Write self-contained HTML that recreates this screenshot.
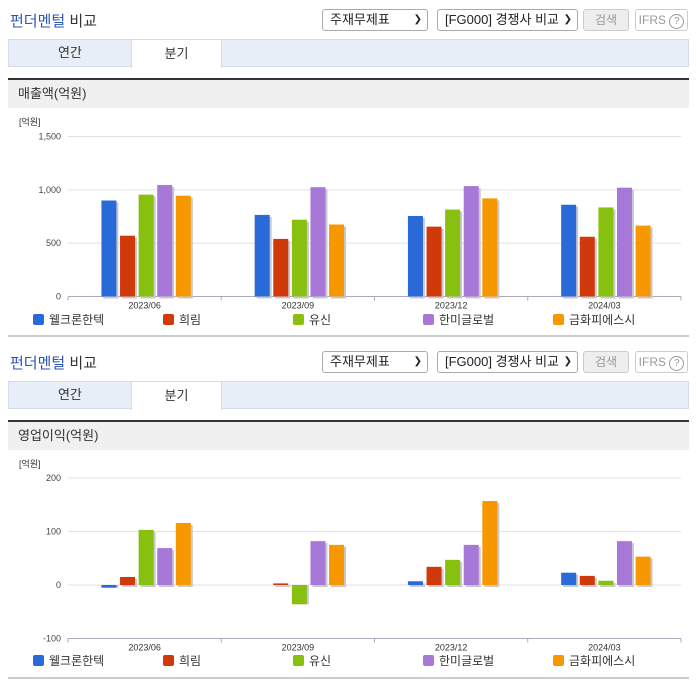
<!DOCTYPE html>
<html><head><meta charset="utf-8">
<style>
body{margin:0;width:696px;height:684px;background:#fff;font-family:"Liberation Sans","Noto Sans CJK KR",sans-serif;position:relative;overflow:hidden}
.abs{position:absolute}
.title{font-size:15px;color:#333;font-weight:normal}
.title b{color:#2a55b8;font-weight:normal}
.sel{border:1px solid #aaa;border-radius:3px;height:22px;font-size:13px;color:#222;box-sizing:border-box;line-height:20px;padding-left:7px;background:#fff}
.sel .arr{position:absolute;right:5px;top:0;font-size:10px}
.btn{border:1px solid #ccc;border-radius:3px;height:22px;box-sizing:border-box;font-size:12px;color:#999;line-height:20px;text-align:center}
.tabs{left:8px;width:681px;height:28px;background:#e8eef7;border:1px solid #d4dce8;box-sizing:border-box}
.tab{position:absolute;top:-1px;height:29px;line-height:28px;text-align:center;font-size:13px;color:#333}
.sec{left:8px;width:681px;height:30px;background:#f0f0f0;border-top:2px solid #333;box-sizing:border-box;font-size:13px;color:#333;line-height:28px;padding-left:10px}
.bottom{left:8px;width:681px;height:2px;background:#ccc}
</style></head><body>
<div id="root"></div>
<script>
const categories=['2023/06','2023/09','2023/12','2024/03'];
const seriesNames=['웰크론한텍','희림','유신','한미글로벌','금화피에스시'];
const colors=['#2a6ad8','#d03a0a','#88c010','#a878d8','#f89800'];
const salesWelcron=[900,765,755,860];
const salesHeerim=[570,540,655,560];
const salesYooshin=[955,720,815,835];
const salesHanmi=[1045,1025,1035,1020];
const salesKumhwa=[945,675,920,665];
const opWelcron=[-5,0,7,23];
const opHeerim=[15,3,34,17];
const opYooshin=[103,-36,47,8];
const opHanmi=[69,82,75,82];
const opKumhwa=[116,75,157,53];
const salesTicks=[0,500,1000,1500];
const salesTickLabels=['0','500','1,000','1,500'];
const opTicks=[-100,0,100,200];
const opTickLabels=['-100','0','100','200'];

const root=document.getElementById('root');
function h(html){root.insertAdjacentHTML('beforeend',html);}

function block(off,secTitle,idx){
 h(`<div class="abs title" style="left:10px;top:${off+10}px"><b>펀더멘털</b> 비교</div>`);
 h(`<div class="abs sel" style="left:322px;top:${off+9}px;width:106px">주재무제표<span class="arr">&#10095;</span></div>`);
 h(`<div class="abs sel" style="left:437px;top:${off+9}px;width:141px">[FG000] 경쟁사 비교<span class="arr">&#10095;</span></div>`);
 h(`<div class="abs btn" style="left:583px;top:${off+9}px;width:46px;background:#eee">검색</div>`);
 h(`<div class="abs btn" style="left:635px;top:${off+9}px;width:53px">IFRS <span style="border:1px solid #999;border-radius:50%;display:inline-block;width:13px;height:13px;line-height:13px;font-size:10px">?</span></div>`);
 h(`<div class="abs tabs" style="top:${off+39}px">
   <div class="tab" style="left:0;width:122px">연간</div>
   <div class="tab" style="left:122px;width:91px;background:#fff;border:1px solid #d4dce8;border-bottom:none;box-sizing:border-box">분기</div></div>`);
 h(`<div class="abs sec" style="top:${off+78}px">${secTitle}</div>`);
 h(`<div class="abs bottom" style="top:${off+335}px"></div>`);
}
block(0,'매출액(억원)',1);
block(342,'영업이익(억원)',2);

const NS='http://www.w3.org/2000/svg';
const svg=document.createElementNS(NS,'svg');
svg.setAttribute('width','696');svg.setAttribute('height','684');
svg.setAttribute('style','position:absolute;left:0;top:0');


document.body.appendChild(svg);
function el(tag,attrs,parent,txt){const e=document.createElementNS(NS,tag);for(const k in attrs)e.setAttribute(k,attrs[k]);if(txt!==undefined)e.textContent=txt;(parent||svg).appendChild(e);return e;}

const X0=68,X1=681;
const groupW=(X1-X0)/categories.length;
function xCenter(i){return X0+groupW*(i+0.5)+1.5;}

function chart(name,series,ticks,tickLabels,yMin,yMax,yTop,yBot,legendY,unitY){
 const g=el('g',{});
 
 
 const y=v=>yBot-(v-yMin)/(yMax-yMin)*(yBot-yTop);
 const u=el('text',{x:19,y:unitY,'font-size':9,fill:'#333'},g,'[억원]');
 
 ticks.forEach((t,i)=>{
  const gl=el('line',{x1:X0,x2:X1,y1:y(t),y2:y(t),stroke:'#dde2e8','stroke-width':1},g);
  
  const tl=el('text',{x:61,y:y(t)+3,'font-size':9,fill:'#444','text-anchor':'end'},g,tickLabels[i]);
  
 });
 el('line',{x1:X0,x2:X1,y1:yBot,y2:yBot,stroke:'#aab','stroke-width':1},g);
 for(let i=0;i<=categories.length;i++){
  el('line',{x1:X0+groupW*i,x2:X0+groupW*i,y1:yBot,y2:yBot+4,stroke:'#aab'},g);
 }
 const zero=y(Math.max(0,yMin));
 categories.forEach((c,i)=>{
  const cx=xCenter(i);
  const xl=el('text',{x:X0+groupW*(i+0.5),y:yBot+12,'font-size':9,fill:'#333','text-anchor':'middle'},g,c);
  
  series.forEach((s,j)=>{
   const v=s[i];const bx=cx+(j-2)*18.6-7.5;
   const top=Math.min(y(v),zero),hgt=Math.abs(y(v)-zero);
   if(hgt<0.5)return;
   el('rect',{x:bx+2,y:top+(v>=0?2:0),width:15,height:hgt,fill:'#c8c8d0'},g);
   const r=el('rect',{x:bx,y:top,width:15,height:hgt,fill:colors[j]},g);
   
   
  });
 });
 seriesNames.forEach((n,j)=>{
  const lx=33+130*j;
  const sq=el('rect',{x:lx,y:legendY-6,width:11,height:11,rx:2,fill:colors[j]},g);
  
  const t=el('text',{x:lx+16,y:legendY+4,'font-size':12,fill:'#333'},g,n);
  
 });
}
chart('sales-chart',[salesWelcron,salesHeerim,salesYooshin,salesHanmi,salesKumhwa],salesTicks,salesTickLabels,0,1500,136.5,296.5,320,125);
chart('operating-profit-chart',[opWelcron,opHeerim,opYooshin,opHanmi,opKumhwa],opTicks,opTickLabels,-100,200,478,638.5,661,467);
</script>
</body></html>
